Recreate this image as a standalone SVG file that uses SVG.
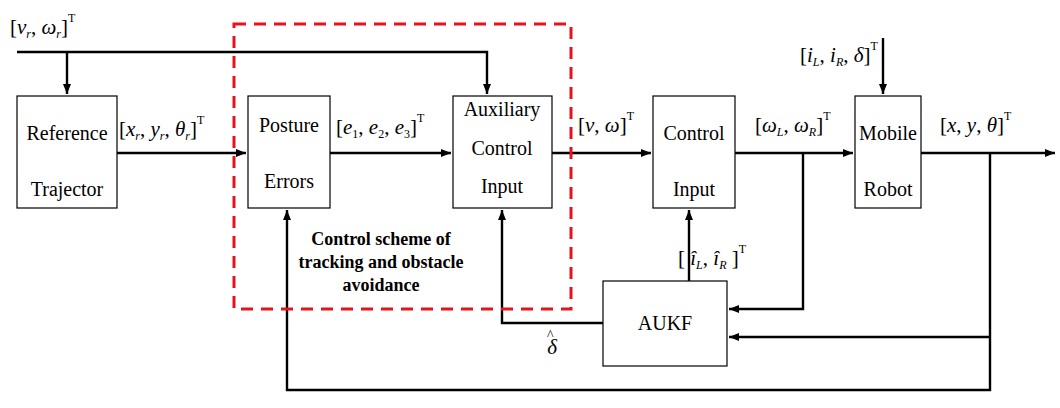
<svg xmlns="http://www.w3.org/2000/svg" width="1060" height="408" viewBox="0 0 1060 408">
<defs>
<marker id="a" markerWidth="10" markerHeight="8" refX="10" refY="4" orient="auto" markerUnits="userSpaceOnUse"><path d="M0,0L10,4L0,8z" fill="#000"/></marker>
<style>
.b{fill:#fff;stroke:#000;stroke-width:1.2}
.t{font-family:"Liberation Serif","Times New Roman","DejaVu Serif",serif;font-size:20px;text-anchor:middle}
.f{font-family:"Liberation Serif","Times New Roman","DejaVu Serif",serif;font-size:21px}
.c{fill:none;stroke:#000;stroke-width:2.4}
</style>
</defs>
<rect width="1060" height="408" fill="#fff"/>
<g id="connectors">
<path class="c" d="M17,52H487V94" marker-end="url(#a)"/>
<path class="c" d="M67,52V94" marker-end="url(#a)"/>
<path class="c" d="M117,153H246" marker-end="url(#a)"/>
<path class="c" d="M330,153H451" marker-end="url(#a)"/>
<path class="c" d="M552,153H651" marker-end="url(#a)"/>
<path class="c" d="M735,153H853" marker-end="url(#a)"/>
<path class="c" d="M921,153H1055" marker-end="url(#a)"/>
<path class="c" d="M883,38V94" marker-end="url(#a)"/>
<path class="c" d="M803,153V309H729" marker-end="url(#a)"/>
<path class="c" d="M990,153V390H287V210" marker-end="url(#a)"/>
<path class="c" d="M990,337H729" marker-end="url(#a)"/>
<path class="c" d="M689,281V210" marker-end="url(#a)"/>
<path class="c" d="M603,323H502V210" marker-end="url(#a)"/>
</g>
<rect x="234" y="24" width="337" height="285" fill="none" stroke="#e8121b" stroke-width="3" stroke-dasharray="12,8"/>
<g id="ref"><rect class="b" x="17" y="96" width="100" height="112"/><text class="t" x="67" y="140">Reference</text><text class="t" x="67" y="196">Trajector</text></g>
<g id="posture"><rect class="b" x="248" y="96" width="82" height="112"/><text class="t" x="289" y="132">Posture</text><text class="t" x="289" y="188">Errors</text></g>
<g id="aux"><rect class="b" x="453" y="96" width="99" height="112"/><text class="t" x="502" y="116">Auxiliary</text><text class="t" x="502" y="155">Control</text><text class="t" x="502" y="193">Input</text></g>
<g id="ctrl"><rect class="b" x="653" y="96" width="82" height="112"/><text class="t" x="694" y="140">Control</text><text class="t" x="694" y="196">Input</text></g>
<g id="robot"><rect class="b" x="855" y="96" width="66" height="112"/><text class="t" x="888" y="140">Mobile</text><text class="t" x="888" y="196">Robot</text></g>
<g id="aukf"><rect class="b" x="603" y="281" width="124" height="85"/><text class="t" x="665" y="330">AUKF</text></g>
<g class="f">
<text class="f" x="10" y="34">[<tspan font-style="italic">v</tspan><tspan font-size="12" font-style="italic" dy="4">r</tspan><tspan dy="-4">, </tspan><tspan font-style="italic">ω</tspan><tspan font-size="12" font-style="italic" dy="4">r</tspan><tspan dy="-4">]</tspan><tspan font-size="12" dy="-12">T</tspan></text>
<text class="f" x="119" y="136">[<tspan font-style="italic">x</tspan><tspan font-size="12" font-style="italic" dy="4">r</tspan><tspan dy="-4">, </tspan><tspan font-style="italic">y</tspan><tspan font-size="12" font-style="italic" dy="4">r</tspan><tspan dy="-4">, </tspan><tspan font-style="italic">θ</tspan><tspan font-size="12" font-style="italic" dy="4">r</tspan><tspan dy="-4">]</tspan><tspan font-size="12" dy="-12">T</tspan></text>
<text class="f" x="336" y="134">[<tspan font-style="italic">e</tspan><tspan font-size="12" dy="4">1</tspan><tspan dy="-4">, </tspan><tspan font-style="italic">e</tspan><tspan font-size="12" dy="4">2</tspan><tspan dy="-4">, </tspan><tspan font-style="italic">e</tspan><tspan font-size="12" dy="4">3</tspan><tspan dy="-4">]</tspan><tspan font-size="12" dy="-12">T</tspan></text>
<text class="f" x="578" y="132">[<tspan font-style="italic">v</tspan>, <tspan font-style="italic">ω</tspan>]<tspan font-size="12" dy="-12">T</tspan></text>
<text class="f" x="755" y="132">[<tspan font-style="italic">ω</tspan><tspan font-size="12" font-style="italic" dy="4">L</tspan><tspan dy="-4">, </tspan><tspan font-style="italic">ω</tspan><tspan font-size="12" font-style="italic" dy="4">R</tspan><tspan dy="-4">]</tspan><tspan font-size="12" dy="-12">T</tspan></text>
<text class="f" x="800" y="62">[<tspan font-style="italic">i</tspan><tspan font-size="12" font-style="italic" dy="4">L</tspan><tspan dy="-4">, </tspan><tspan font-style="italic">i</tspan><tspan font-size="12" font-style="italic" dy="4">R</tspan><tspan dy="-4">, </tspan><tspan font-style="italic">δ</tspan>]<tspan font-size="12" dy="-12">T</tspan></text>
<text class="f" x="940" y="132">[<tspan font-style="italic">x</tspan>, <tspan font-style="italic">y</tspan>, <tspan font-style="italic">θ</tspan>]<tspan font-size="12" dy="-12">T</tspan></text>
<text class="f" x="678" y="265">[ <tspan font-style="italic">î</tspan><tspan font-size="12" font-style="italic" dy="4">L</tspan><tspan dy="-4">, </tspan><tspan font-style="italic">î</tspan><tspan font-size="12" font-style="italic" dy="4">R</tspan><tspan dy="-4"> ]</tspan><tspan font-size="12" dy="-12">T</tspan></text>
<text class="f" x="547" y="354" font-style="italic">δ<tspan font-size="14" font-style="normal" dx="-10" dy="-14">^</tspan></text>
</g>
<g font-family="'Liberation Serif','Times New Roman','DejaVu Serif',serif" font-size="18" font-weight="bold" text-anchor="middle">
<text x="381" y="245">Control scheme of</text>
<text x="381" y="268">tracking and obstacle</text>
<text x="381" y="291">avoidance</text>
</g>
</svg>
